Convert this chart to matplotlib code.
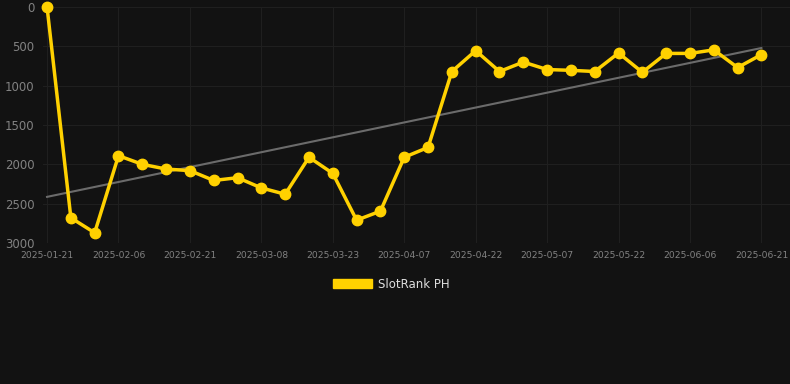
import numpy as np
import matplotlib
matplotlib.use('Agg')
import matplotlib.pyplot as plt
from matplotlib.patches import Patch

# rank per snapshot (every ~5 days), lower is better
ranks = [0, 2680, 2870, 1890, 2000, 2060, 2080, 2205, 2170, 2300,
         2380, 1910, 2115, 2710, 2595, 1910, 1785, 820, 555, 820,
         700, 795, 805, 820, 585, 830, 590, 590, 545, 770, 605]

tick_labels = ['2025-01-21', '2025-02-06', '2025-02-21', '2025-03-08',
               '2025-03-23', '2025-04-07', '2025-04-22', '2025-05-07',
               '2025-05-22', '2025-06-06', '2025-06-21']

series_name = 'SlotRank PH'

bg = '#121212'
gold = '#FFD100'

x = np.arange(len(ranks))
y = np.array(ranks)

# linear trend over the series
k, b = np.polyfit(x, y, 1)

fig = plt.figure(figsize=(7.9, 3.84), dpi=100, facecolor=bg)
ax = fig.add_axes([43 / 790, 1 - 243 / 384, (790 - 43) / 790, (243 - 7) / 384])
ax.set_facecolor(bg)

ax.plot(x, k * x + b, color='#6b6b6b', linewidth=1.5, zorder=2)
ax.plot(x, y, color=gold, linewidth=2.5, marker='o', markersize=7.5,
        zorder=3, clip_on=False)

ax.set_ylim(3000, 0)
ax.set_xlim(-0.17, 31.2)
ax.set_yticks([0, 500, 1000, 1500, 2000, 2500, 3000])
ax.set_xticks(x[::3])
ax.set_xticklabels(tick_labels)

ax.grid(True, color='#1f1f1f', linewidth=0.8)
for s in ax.spines.values():
    s.set_visible(False)
ax.tick_params(axis='x', colors='#828282', labelsize=6.6, length=0, pad=6)
ax.tick_params(axis='y', colors='#828282', labelsize=8.5, length=0, pad=6)
ax.set_axisbelow(True)

handle = Patch(facecolor=gold, edgecolor=gold)
fig.legend([handle], [series_name], loc='center', bbox_to_anchor=(0.495, 1 - 284 / 384),
           frameon=False, labelcolor='#dddddd', fontsize=8.5,
           handlelength=3.3, handleheight=0.9, handletextpad=0.5)

fig.savefig('out.png', dpi=100, facecolor=bg)
